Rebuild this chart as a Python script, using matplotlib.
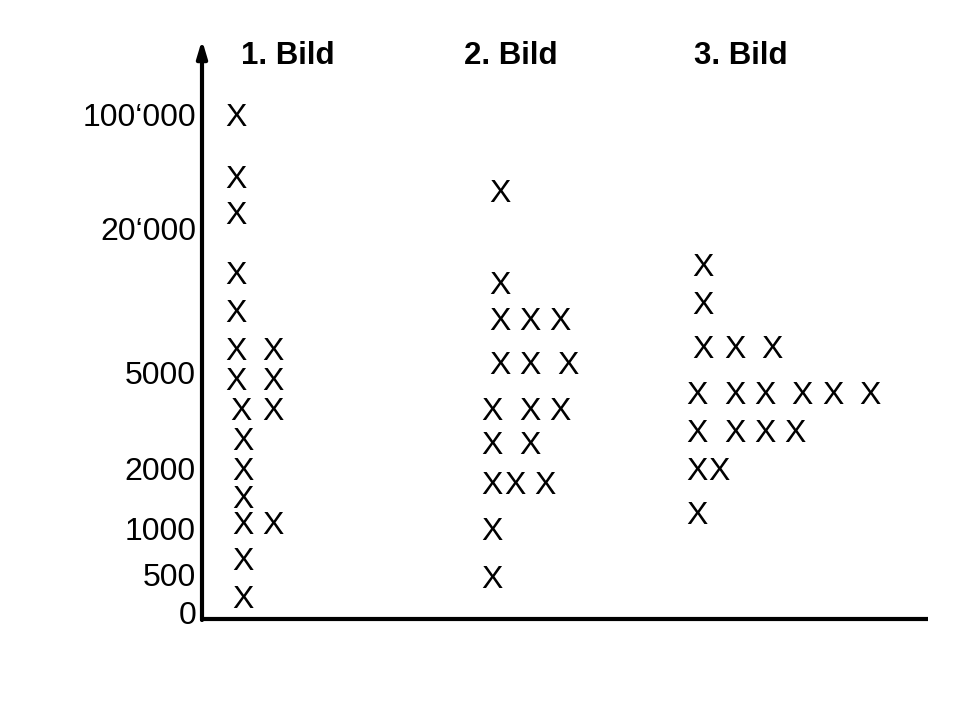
"""
Sketch chart: X-marks per picture (1./2./3. Bild) against a hand-scaled value axis
"""

import matplotlib
matplotlib.use('Agg')
import matplotlib.pyplot as plt

# column headers
titles = ['1. Bild', '2. Bild', '3. Bild']
title_x = [288, 511, 741]

# y-axis tick labels and their heights on the sketch (pixel-like units, 0 at top)
tick_labels = ['100\u2018000', '20\u2018000', '5000', '2000', '1000', '500', '0']
tick_y = [115, 228, 372, 468, 528, 575, 613]

# centres of the X marks (x, y)
bild1_x = [236, 236, 236, 236, 236, 236, 273, 236, 273, 241, 273, 243, 243, 243, 243, 273, 243, 243]
bild1_y = [115, 177, 212, 273, 310, 348, 348, 378, 378, 408, 408, 438, 468, 497, 522, 522, 558, 597]

bild2_x = [500, 500, 500, 530, 560, 500, 530, 568, 492, 530, 560, 492, 530, 492, 515, 545, 492, 492]
bild2_y = [190, 282, 318, 318, 318, 362, 362, 362, 408, 408, 408, 443, 443, 482, 482, 482, 528, 577]

bild3_x = [703, 703, 703, 735, 772, 697, 735, 765, 802, 833, 870, 697, 735, 765, 795, 697, 719, 697]
bild3_y = [265, 302, 347, 347, 347, 392, 392, 392, 392, 392, 392, 430, 430, 430, 430, 468, 468, 513]


def draw_chart():
    plt.rcParams['font.family'] = ['Liberation Sans', 'DejaVu Sans']

    fig = plt.figure(figsize=(9.6, 7.2), dpi=100)
    ax = fig.add_axes([0, 0, 1, 1])
    ax.set_xlim(0, 960)
    ax.set_ylim(720, 0)
    ax.axis('off')

    # axes: vertical arrow and horizontal baseline
    ax.annotate('', xy=(202, 40), xytext=(202, 620),
                arrowprops=dict(arrowstyle='-|>,head_length=1.0,head_width=0.3',
                                lw=3, color='black', shrinkA=0, shrinkB=0))
    ax.plot([200, 928], [619, 619], color='black', lw=3, solid_capstyle='butt')

    for label, y in zip(tick_labels, tick_y):
        ax.text(196, y + 11.5, label, ha='right', va='baseline', fontsize=23)

    for t, x in zip(titles, title_x):
        ax.text(x, 64, t, ha='center', va='baseline', fontsize=22.5, fontweight='bold')

    # half cap height offset so the marks sit centred on their y
    for xs, ys in [(bild1_x, bild1_y), (bild2_x, bild2_y), (bild3_x, bild3_y)]:
        for x, y in zip(xs, ys):
            ax.text(x, y + 11.5, 'X', ha='center', va='baseline', fontsize=23)

    fig.savefig('out.png', dpi=100)


if __name__ == "__main__":
    draw_chart()
